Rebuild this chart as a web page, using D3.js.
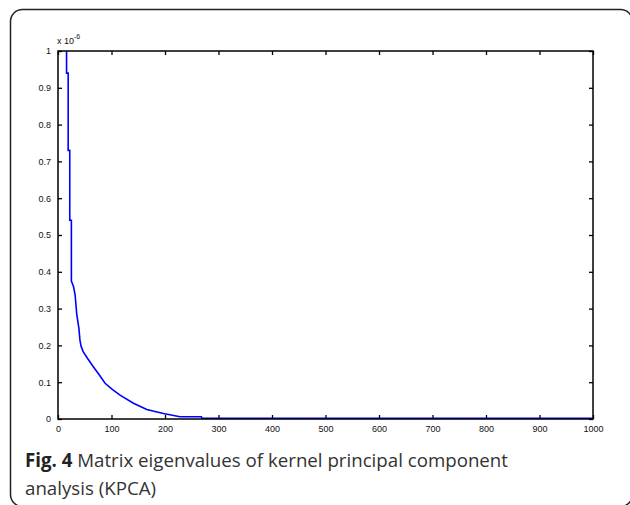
<!DOCTYPE html>
<html>
<head>
<meta charset="utf-8">
<script src="https://cdn.jsdelivr.net/npm/d3@7"></script>
<style>
  body { margin: 0; background: #fff; }
  svg { display: block; }
  .tick text { font-family: "Liberation Sans", Arial, sans-serif; font-size: 9px; fill: #111; }
</style>
</head>
<body>
<svg id="chart" width="630" height="505"></svg>
<script>
// eigenvalue curve (component index, value in units of 1e-6)
var componentIndex = [16, 16, 19, 19, 22, 22, 25, 25, 29, 32, 35, 39, 41, 43, 47, 55, 66, 77, 88, 102, 116, 141, 166, 197, 228, 268, 269, 1000];
var eigenValue = [1.0, 0.94, 0.94, 0.73, 0.73, 0.54, 0.54, 0.375, 0.36, 0.337, 0.285, 0.247, 0.215, 0.198, 0.183, 0.165, 0.142, 0.12, 0.097, 0.08, 0.065, 0.043, 0.026, 0.015, 0.006, 0.006, 0.002, 0.002];

var xTicks = [0, 100, 200, 300, 400, 500, 600, 700, 800, 900, 1000];
var yTicks = [0, 0.1, 0.2, 0.3, 0.4, 0.5, 0.6, 0.7, 0.8, 0.9, 1];

var svg = d3.select('#chart');

// rounded frame round the figure (right and bottom run off the page)
svg.append('rect')
    .attr('x', 10.5).attr('y', 9.5)
    .attr('width', 622).attr('height', 497)
    .attr('rx', 12)
    .attr('fill', 'none')
    .attr('stroke', '#222')
    .attr('stroke-width', 1.5);

var pLeft = 58, pRight = 593, pTop = 51, pBottom = 419;

var x = d3.scaleLinear().domain([0, 1000]).range([pLeft, pRight]);
var y = d3.scaleLinear().domain([0, 1]).range([pBottom, pTop]);

var fmt = function (d) { return d3.format('~g')(d); };

// bottom & left axes with inward ticks
svg.append('g')
    .attr('transform', 'translate(0,' + pBottom + ')')
    .call(d3.axisBottom(x).tickValues(xTicks).tickSizeInner(-4).tickSizeOuter(0).tickPadding(7).tickFormat(fmt))
    .call(function (g) { g.select('.domain').remove(); });

svg.append('g')
    .attr('transform', 'translate(' + pLeft + ',0)')
    .call(d3.axisLeft(y).tickValues(yTicks).tickSizeInner(-4).tickSizeOuter(0).tickPadding(7).tickFormat(fmt))
    .call(function (g) { g.select('.domain').remove(); });

// top & right ticks, no labels
svg.append('g')
    .attr('transform', 'translate(0,' + pTop + ')')
    .call(d3.axisTop(x).tickValues(xTicks).tickSizeInner(-4).tickSizeOuter(0).tickFormat(''))
    .call(function (g) { g.select('.domain').remove(); });

svg.append('g')
    .attr('transform', 'translate(' + pRight + ',0)')
    .call(d3.axisRight(y).tickValues(yTicks).tickSizeInner(-4).tickSizeOuter(0).tickFormat(''))
    .call(function (g) { g.select('.domain').remove(); });

svg.selectAll('.tick line').attr('stroke', '#000').attr('stroke-width', 1.3);

// data line
var pts = d3.zip(componentIndex, eigenValue);
svg.append('path')
    .datum(pts)
    .attr('fill', 'none')
    .attr('stroke', '#0000ff')
    .attr('stroke-width', 1.6)
    .attr('d', d3.line().x(function (d) { return x(d[0]); }).y(function (d) { return y(d[1]); }));

// plot box
svg.append('rect')
    .attr('x', pLeft).attr('y', pTop)
    .attr('width', pRight - pLeft).attr('height', pBottom - pTop)
    .attr('fill', 'none')
    .attr('stroke', '#000')
    .attr('stroke-width', 1.5);

// exponent label
var expo = svg.append('text')
    .attr('x', 57).attr('y', 44)
    .attr('font-family', '"Liberation Sans", Arial, sans-serif')
    .attr('font-size', 9)
    .attr('fill', '#111');
expo.append('tspan').text('x 10');
expo.append('tspan').attr('dy', -5).attr('font-size', 7).text('-6');

// caption
var cap = svg.append('text')
    .attr('x', 25).attr('y', 467)
    .attr('font-family', '"Open Sans", sans-serif')
    .attr('font-size', 18.7)
    .attr('fill', '#333');
cap.append('tspan').attr('font-weight', 'bold').attr('fill', '#222').text('Fig. 4');
cap.append('tspan').text(' Matrix eigenvalues of kernel principal component');

svg.append('text')
    .attr('x', 25).attr('y', 495)
    .attr('font-family', '"Open Sans", sans-serif')
    .attr('font-size', 18.7)
    .attr('fill', '#333')
    .text('analysis (KPCA)');
</script>
</body>
</html>
